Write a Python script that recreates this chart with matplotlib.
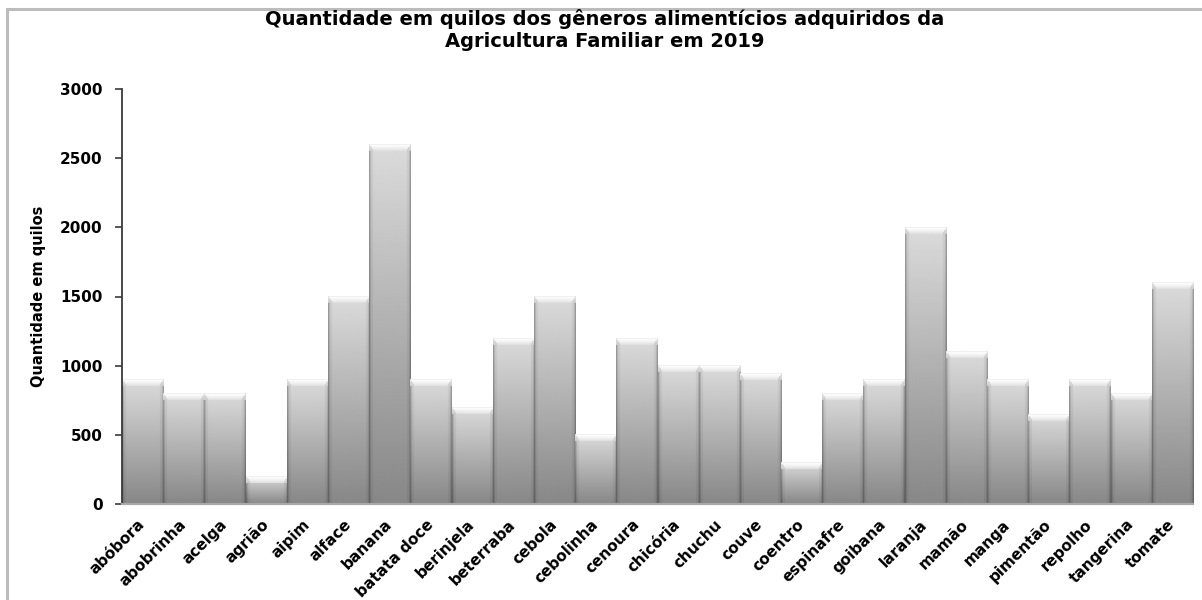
import numpy as np
import matplotlib
matplotlib.use("Agg")
import matplotlib.pyplot as plt
from matplotlib.patches import Rectangle

# Quantities (kg) of family-farm food purchases, 2019
categories = [
    "abóbora", "abobrinha", "acelga", "agrião", "aipim", "alface", "banana",
    "batata doce", "berinjela", "beterraba", "cebola", "cebolinha", "cenoura",
    "chicória", "chuchu", "couve", "coentro", "espinafre", "goibana",
    "laranja", "mamão", "manga", "pimentão", "repolho", "tangerina", "tomate",
]
quantities = [
    900, 800, 800, 200, 900, 1500, 2600,
    900, 700, 1200, 1500, 500, 1200,
    1000, 1000, 940, 300, 800, 900,
    2000, 1100, 900, 650, 900, 800, 1600,
]
y_ticks = [0, 500, 1000, 1500, 2000, 2500, 3000]

title_text = ("Quantidade em quilos dos gêneros alimentícios adquiridos da\n"
              "Agricultura Familiar em 2019")
y_label = "Quantidade em quilos"

W, H, DPI = 1202, 600, 100
fig = plt.figure(figsize=(W / DPI, H / DPI), dpi=DPI)
fig.patch.set_facecolor("white")

# outer chart frame
frame = Rectangle((7 / W, -0.05), 1.2, (H - 9) / H + 0.05,
                  transform=fig.transFigure, fill=False,
                  edgecolor="#bcbcbc", linewidth=2.2, zorder=0)
fig.patches.append(frame)

ax = fig.add_axes([122 / W, 96 / H, (1193 - 122) / W, (504 - 89) / H])
ax.set_xlim(-0.5, len(categories) - 0.5)
ax.set_ylim(0, 3000)
ax.set_autoscale_on(False)
ax.set_facecolor("white")


def bar_texture(w_px, h_px):
    """Grey bevelled bar: vertical gradient, dark sides, bright top edge."""
    w = max(int(round(w_px)), 6)
    h = max(int(round(h_px)), 6)
    rows = (np.arange(h) + 0.5)[:, None]
    cols = (np.arange(w) + 0.5)[None, :]
    t = rows / h
    body = 0.86 - 0.33 * t
    img = np.repeat(body, w, axis=1)
    d = np.minimum(cols, w - cols)
    side = np.where(d < 1.2, 0.72, np.where(d < 2.4, 0.85, np.where(d < 4, 0.95, 1.0)))
    img = img * side
    bev = 7.0
    top = rows < bev
    frac = rows / bev
    hi = 1.0 - (1.0 - 0.87) * frac ** 1.5
    in_face = d > rows * 0.55 + 0.6
    img = np.where(top & in_face, hi, img)
    corner = top & ~in_face
    img = np.where(corner, 0.80 + 0.1 * (1 - frac), img)
    img = np.where(rows < 1.0, np.minimum(img, 0.94), img)
    return np.clip(img, 0, 1)


fig.canvas.draw()
for i, v in enumerate(quantities):
    x0, y0 = ax.transData.transform((i - 0.5, 0))
    x1, y1 = ax.transData.transform((i + 0.5, v))
    tex = bar_texture(x1 - x0, y1 - y0)
    ax.imshow(tex, cmap="gray", vmin=0, vmax=1, aspect="auto",
              extent=(i - 0.5, i + 0.5, 0, v), origin="upper",
              interpolation="bilinear", zorder=2)

ax.set_xlim(-0.5, len(categories) - 0.5)
ax.set_ylim(0, 3000)

for s in ("top", "right"):
    ax.spines[s].set_visible(False)
ax.spines["left"].set_color("#3a3a3a")
ax.spines["left"].set_linewidth(1.3)
ax.spines["bottom"].set_color("#a8a8a8")
ax.spines["bottom"].set_linewidth(1.6)
ax.spines["bottom"].set_zorder(3)

ax.set_yticks(y_ticks)
ax.set_yticklabels([str(t) for t in y_ticks], fontsize=11,
                   fontweight="bold", family="DejaVu Sans")
ax.tick_params(axis="y", direction="out", length=5, width=1.2,
               color="#3a3a3a", pad=9)

ax.set_xticks(range(len(categories)))
ax.set_xticklabels(categories, rotation=45, ha="right", va="center",
                   rotation_mode="anchor", fontsize=11,
                   fontweight="bold", family="DejaVu Sans")
ax.tick_params(axis="x", length=0, pad=13)

ax.set_ylabel(y_label, fontsize=10.5, fontweight="bold",
              family="DejaVu Sans", labelpad=10)

fig.text(0.5 + 0.5 * 7 / W, 1 - 30 / H, title_text, ha="center", va="center",
         fontsize=14, fontweight="bold", family="DejaVu Sans",
         linespacing=1.2)

fig.savefig("out.png", dpi=DPI, facecolor="white")
